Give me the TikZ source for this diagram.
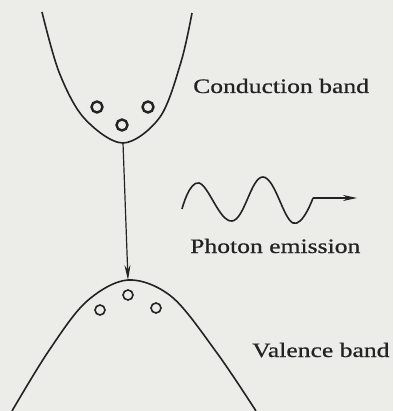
\documentclass[tikz,border=0pt]{standalone}
\usepackage{fontspec}
\setmainfont{Liberation Serif}[FakeStretch=1.25, FakeBold=0.6]
\usetikzlibrary{arrows.meta}

\definecolor{paper}{RGB}{236,236,233}
\definecolor{ink}{RGB}{35,35,35}

\tikzset{
    band/.style={draw=ink, line width=1.6pt},
    electron/.style={circle, draw=ink, line width=2.4pt, inner sep=0pt, minimum size=11pt},
    hole/.style={circle, draw=ink, line width=1.6pt, inner sep=0pt, minimum size=10pt},
    label/.style={anchor=base west, text=ink, inner sep=0pt, font=\fontsize{20.5}{24}\selectfont}
}

\begin{document}
\begin{tikzpicture}[x=1pt, y=-1pt]
    \fill[paper] (0,0) rectangle (393,411);
    \useasboundingbox (0,0) rectangle (393,411);

    % Draw bands
    \draw[band] plot[smooth, tension=0.55] coordinates {(42,12) (59,72) (84,118) (123,143) (160,117) (181,62) (192,13)};
    \draw[band] plot[smooth, tension=0.55] coordinates {(12,411) (48,352) (86,302) (128,280) (172,297) (217,353) (256,411)};

    % Draw nodes
    \coordinate (cb) at (123,143);
    \coordinate (vb) at (128,280);
    \node[electron] (e1) at (97,107) {};
    \node[electron] (e2) at (122,125) {};
    \node[electron] (e3) at (148,107) {};
    \node[hole] (h1) at (100,310) {};
    \node[hole] (h2) at (128,295) {};
    \node[hole] (h3) at (156,308) {};

    % Draw connections
    \draw[ink, line width=1.2pt, -{Stealth[length=15pt, width=6pt]}] (cb) -- (vb);
    \coordinate (w0) at (182,209);
    \coordinate (w1) at (313,198);
    \coordinate (w2) at (357,198);
    \draw[band] plot[smooth, tension=0.7] coordinates {(w0) (199,183) (232,221) (263,177) (293,223) (w1)};
    \draw[ink, line width=1.5pt, -{Stealth[length=14pt, width=6pt]}] (w1) -- (w2);

    % Labels
    \node[label] (cblabel) at (193,93) {Conduction band};
    \node[label] (pelabel) at (190,253) {Photon emission};
    \node[label] (vblabel) at (252,357) {Valence band};
\end{tikzpicture}
\end{document}
